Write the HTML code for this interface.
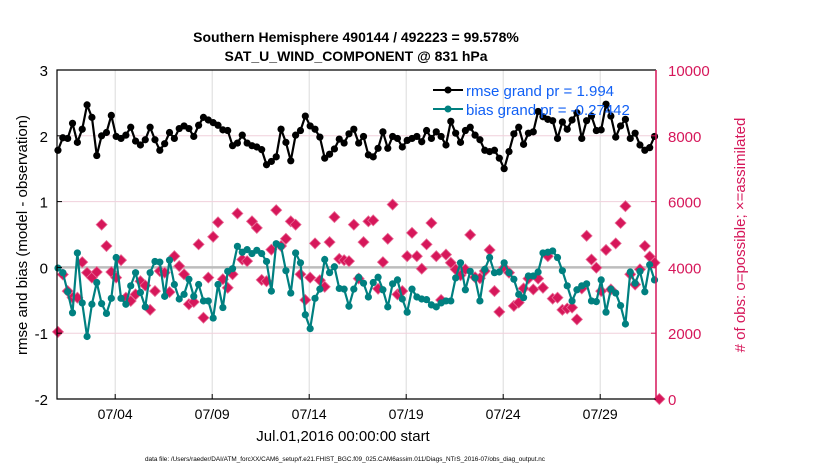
<!DOCTYPE html>
<html><head><meta charset="utf-8"><style>
body{margin:0;background:#fff;width:830px;height:470px;overflow:hidden}
text{font-family:"Liberation Sans",Arial,sans-serif}
</style></head><body>
<svg id="chart" width="830" height="470" xmlns="http://www.w3.org/2000/svg">
<text x="356" y="42" text-anchor="middle" font-size="14" font-weight="bold">Southern Hemisphere 490144 / 492223 = 99.578%</text>
<text x="356" y="61" text-anchor="middle" font-size="14" font-weight="bold">SAT_U_WIND_COMPONENT @ 831 hPa</text>
<g id="grid"></g><g id="marks"></g><g id="axes"></g>
<text x="343" y="441" text-anchor="middle" font-size="15">Jul.01,2016 00:00:00 start</text>
<text transform="translate(27,235) rotate(-90)" text-anchor="middle" font-size="15">rmse and bias (model - observation)</text>
<text transform="translate(745,235) rotate(-90)" text-anchor="middle" font-size="15" fill="#d6175a"># of obs: o=possible; ×=assimilated</text>
<text x="345" y="461" text-anchor="middle" font-size="6.6" textLength="400" lengthAdjust="spacingAndGlyphs">data file: /Users/raeder/DAI/ATM_forcXX/CAM6_setup/f.e21.FHIST_BGC.f09_025.CAM6assim.011/Diags_NTrS_2016-07/obs_diag_output.nc</text>
<g>
<line x1="433" y1="90" x2="463" y2="90" stroke="#000" stroke-width="2"/><circle cx="448" cy="90" r="3.5" fill="#000"/>
<text x="466" y="96" font-size="15" fill="#1160f5">rmse grand pr = 1.994</text>
<line x1="433" y1="109" x2="463" y2="109" stroke="#008080" stroke-width="2"/><circle cx="448" cy="109" r="3.5" fill="#008080"/>
<text x="466" y="115" font-size="15" fill="#1160f5">bias grand pr = -0.27442</text>
</g>
</svg>
<script>
const rmse=[1.78,1.97,1.96,2.19,1.9,2.1,2.47,2.28,1.70,2.0,2.05,2.31,1.99,1.96,2.01,2.13,1.92,1.86,1.94,2.13,1.94,1.78,1.88,2.05,1.96,2.11,2.15,2.11,1.99,2.16,2.28,2.24,2.20,2.16,2.09,2.08,1.85,1.89,2.01,1.89,1.85,1.83,1.79,
1.56,1.61,1.68,2.10,1.90,1.62,2.01,2.08,2.30,2.15,2.10,1.98,1.66,1.72,1.80,1.95,1.89,2.03,2.10,1.89,1.99,1.71,1.68,1.81,2.06,1.81,1.99,1.96,1.83,1.93,1.96,1.99,1.91,2.08,1.96,2.06,1.99,1.86,2.22,2.04,1.90,
2.08,2.13,2.01,1.94,1.78,1.76,1.78,1.66,1.50,1.76,2.03,2.13,1.87,2.04,2.06,2.37,2.29,2.25,2.23,1.96,2.21,2.10,2.24,2.35,1.96,2.23,2.30,2.08,2.09,2.48,2.30,1.98,2.15,2.25,1.96,2.04,1.86,1.78,1.82,1.99];
const bias=[-0.01,-0.08,-0.37,-0.69,0.22,-0.54,-1.05,-0.56,-0.23,-0.55,-0.70,-0.47,0.15,-0.47,-0.56,-0.28,-0.08,-0.38,-0.60,-0.08,0.09,0.08,-0.44,0.11,-0.26,-0.48,-0.41,-0.18,-0.44,-0.26,-0.51,-0.51,-0.77,-0.26,-0.61,-0.06,-0.02,0.32,0.23,0.27,0.21,0.26,0.21,
0.09,-0.36,0.36,0.32,-0.05,-0.39,0.22,0.07,-0.72,-0.93,-0.47,-0.33,0.12,-0.08,0.01,-0.32,-0.33,-0.59,-0.33,-0.15,-0.24,-0.45,-0.23,-0.15,-0.34,-0.60,-0.25,-0.19,-0.48,-0.68,-0.33,-0.45,-0.48,-0.49,-0.57,-0.60,-0.54,-0.51,-0.51,-0.16,0.07,
-0.34,-0.06,-0.16,-0.51,-0.03,0.15,-0.08,-0.07,0.07,-0.08,-0.18,-0.41,-0.46,-0.13,-0.13,-0.07,0.22,0.23,0.25,0.15,-0.05,-0.28,-0.51,-0.34,-0.28,-0.25,-0.51,-0.52,-0.19,-0.68,-0.33,-0.39,-0.58,-0.86,-0.07,-0.24,-0.06,-0.37,0.04,-0.19];
const nobs=[2040,3785,3280,3080,3080,4160,3840,3690,3860,5300,4650,3860,3690,4220,3080,2980,3180,3580,3450,2710,3280,3890,3840,3250,4340,4040,3790,2880,2950,4700,2470,3690,4930,5370,3640,3380,3790,5640,4240,4190,5400,5200,3620,
3580,4540,5740,4650,4870,5400,5300,3790,3010,3690,4730,3610,3410,4770,5530,4260,4220,4190,5300,3660,4770,5400,5430,3350,4160,4870,5910,3180,3280,4340,5050,4340,3960,4700,5350,4340,3010,4390,4140,3940,3760,
3940,4990,3700,3670,3890,4530,3280,2650,3990,3840,2830,2930,3360,3660,3330,3660,3380,4340,3050,3080,2710,2750,2780,2420,3360,4960,4240,3990,3280,4530,3330,4730,5350,5860,3790,3480,3940,4650,4330,4140,0];
const xTickLabels=["07/04","07/09","07/14","07/19","07/24","07/29"];
const xTickDays=[3,8,13,18,23,28];
const yLeftTicks=[3,2,1,0,-1,-2];
const yRightTicks=[10000,8000,6000,4000,2000,0];
const NS="http://www.w3.org/2000/svg";
const X0=57,X1=656,Y0=70,Y1=399;
const xs=d=>X0+d*19.4;
const yl=v=>Y0+(3-v)*(Y1-Y0)/5;
const yr=v=>Y1-v*(Y1-Y0)/10000;
const tOf=i=>0.05+i*0.25;
function mk(tag,attrs,parent){const e=document.createElementNS(NS,tag);for(const k in attrs)e.setAttribute(k,attrs[k]);parent.appendChild(e);return e;}
const grid=document.getElementById('grid'),marks=document.getElementById('marks'),axes=document.getElementById('axes');
xTickDays.forEach((d,i)=>{const g=mk('line',{x1:xs(d),x2:xs(d),y1:Y0,y2:Y1,stroke:'#dcdcdc','stroke-width':1},grid);


const t=mk('line',{x1:xs(d),x2:xs(d),y1:Y1,y2:Y1-5,stroke:'#000'},axes);


const l=mk('text',{x:xs(d),y:Y1+20,'text-anchor':'middle','font-size':14},axes);l.textContent=xTickLabels[i];

});
yRightTicks.forEach(v=>{if(v>0&&v<10000){const g=mk('line',{x1:X0,x2:X1,y1:yr(v),y2:yr(v),stroke:'#f0d0dc','stroke-width':1},grid);

}
const t=mk('line',{x1:X1,x2:X1-5,y1:yr(v),y2:yr(v),stroke:'#d6175a'},axes);


const l=mk('text',{x:X1+12,y:yr(v)+6,'font-size':15,fill:'#d6175a'},axes);l.textContent=v;

});
yLeftTicks.forEach(v=>{const t=mk('line',{x1:X0,x2:X0+5,y1:yl(v),y2:yl(v),stroke:'#000'},axes);


const l=mk('text',{x:X0-9,y:yl(v)+6,'text-anchor':'end','font-size':15},axes);l.textContent=v;

});
const zl=mk('line',{x1:X0,x2:X1,y1:yl(0),y2:yl(0),stroke:'#bdbdbd','stroke-width':2.5},grid);


nobs.forEach((v,i)=>{const x=xs(tOf(i)),y=yr(v);
const p=mk('path',{d:`M${x} ${y-5.5}L${x+5.5} ${y}L${x} ${y+5.5}L${x-5.5} ${y}Z`,fill:'#d6175a',stroke:'#e86a95','stroke-width':0.8},marks);

});
function series(arr,color,name){const pts=arr.map((v,i)=>xs(tOf(i))+','+yl(v)).join(' ');
const pl=mk('polyline',{points:pts,fill:'none',stroke:color,'stroke-width':2.2},marks);


arr.forEach((v,i)=>{const c=mk('circle',{cx:xs(tOf(i)),cy:yl(v),r:3.6,fill:color},marks);

});}
series(bias,'#008080','bias');
series(rmse,'#000','rmse');
const f=mk('path',{d:`M${X1} ${Y0}H${X0}V${Y1}H${X1}`,fill:'none',stroke:'#000','stroke-width':1.2},axes);


const rs=mk('line',{x1:X1,x2:X1,y1:Y0,y2:Y1,stroke:'#d6175a','stroke-width':1.5},axes);


</script>
</body></html>
